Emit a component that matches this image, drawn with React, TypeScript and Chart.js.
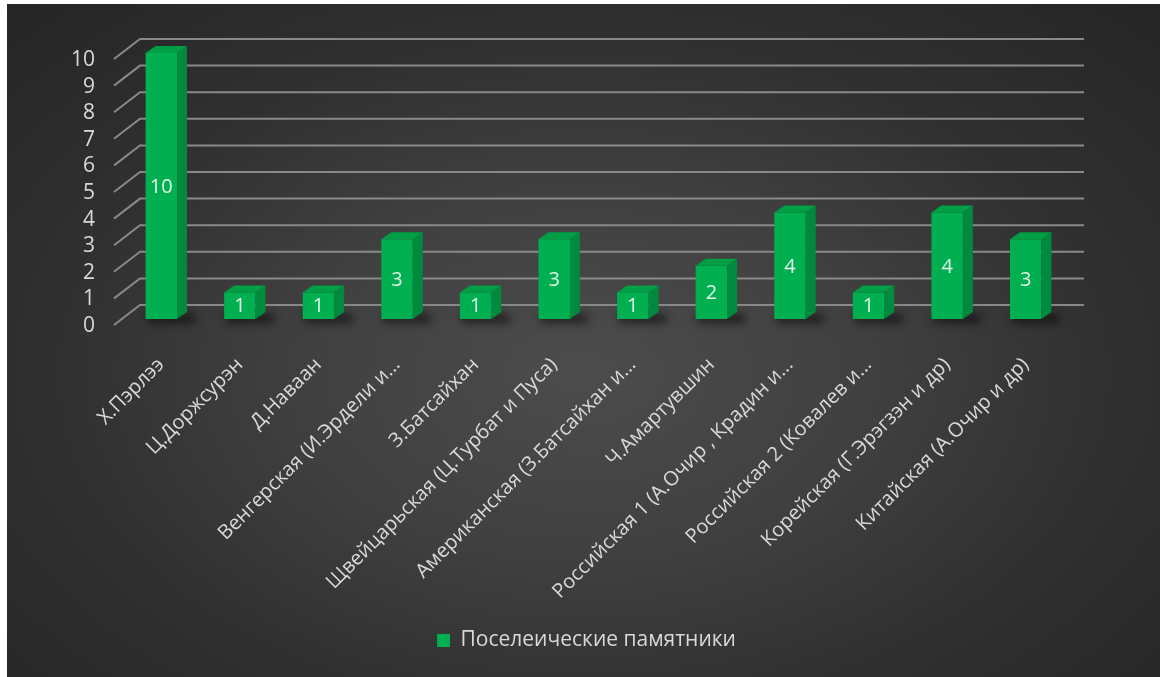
import { useEffect, useRef } from "react";
import { Chart, registerables } from "chart.js";

Chart.register(...registerables);

const categories: string[] = [
  "Х.Пэрлээ",
  "Ц.Доржсурэн",
  "Д.Наваан",
  "Венгерская (И.Эрдели и...",
  "З.Батсайхан",
  "Щвейцарьская (Ц.Турбат и Пуса)",
  "Американская (З.Батсайхан и...",
  "Ч.Амартувшин",
  "Российская 1 (А.Очир , Крадин и...",
  "Российская 2 (Ковалев и...",
  "Корейская (Г.Эрэгзэн и др)",
  "Китайская (А.Очир и др)",
];
const values: number[] = [10, 1, 1, 3, 1, 3, 1, 2, 4, 1, 4, 3];
const yTickValues: number[] = [0, 1, 2, 3, 4, 5, 6, 7, 8, 9, 10];
const seriesName = "Поселеические памятники";

const FONT = "'Open Sans', sans-serif";
const DX = 10;
const DY = 7;
const W = 1153;
const H = 673;

const threeD = {
  id: "threeD",
  beforeDatasetsDraw(chart: any) {
    const { ctx, chartArea, scales } = chart;
    const y = scales.y;
    ctx.save();
    ctx.strokeStyle = "#898989";
    ctx.lineWidth = 2;
    for (const v of yTickValues) {
      const py = y.getPixelForValue(v);
      ctx.beginPath();
      ctx.moveTo(chartArea.left - 8, py + 6);
      ctx.lineTo(chartArea.left + 18, py - 14);
      ctx.lineTo(chartArea.right + 19, py - 14);
      ctx.stroke();
    }
    const meta = chart.getDatasetMeta(0);
    ctx.filter = "blur(4px)";
    ctx.fillStyle = "rgba(0,0,0,0.55)";
    meta.data.forEach((bar: any) => {
      const { x, base, width } = bar.getProps(["x", "base", "width"], true);
      ctx.fillRect(x - width / 2 + 2, base - 5, width + DX + 6, 9);
    });
    ctx.restore();
  },
  afterDatasetsDraw(chart: any) {
    const { ctx } = chart;
    const meta = chart.getDatasetMeta(0);
    ctx.save();
    meta.data.forEach((bar: any, i: number) => {
      const { x, y, base, width } = bar.getProps(["x", "y", "base", "width"], true);
      const l = x - width / 2;
      const r = x + width / 2;
      ctx.fillStyle = "#008a3d";
      ctx.beginPath();
      ctx.moveTo(r, y);
      ctx.lineTo(r + DX, y - DY);
      ctx.lineTo(r + DX, base - DY);
      ctx.lineTo(r, base);
      ctx.closePath();
      ctx.fill();
      ctx.fillStyle = "#009e45";
      ctx.beginPath();
      ctx.moveTo(l, y);
      ctx.lineTo(l + DX, y - DY);
      ctx.lineTo(r + DX, y - DY);
      ctx.lineTo(r, y);
      ctx.closePath();
      ctx.fill();
      ctx.fillStyle = "#e4f3e8";
      ctx.font = `20px ${FONT}`;
      ctx.textAlign = "center";
      ctx.textBaseline = "middle";
      ctx.fillText(String(values[i]), x, (y + base) / 2 + 1);
    });
    ctx.restore();
  },
};

export default function App() {
  const ref = useRef<HTMLCanvasElement | null>(null);

  useEffect(() => {
    if (!ref.current) return;
    const chart = new Chart(ref.current, {
      type: "bar",
      data: {
        labels: categories,
        datasets: [
          {
            label: seriesName,
            data: values,
            backgroundColor: "#00b050",
            borderWidth: 0,
            barPercentage: 0.8,
            categoryPercentage: 0.5,
            yAxisID: "y",
          },
        ],
      },
      options: {
        responsive: false,
        animation: false,
        devicePixelRatio: 1,
        layout: { padding: { left: 60, right: 54, top: 49, bottom: 16 } },
        plugins: {
          tooltip: { enabled: false },
          legend: {
            display: true,
            position: "bottom",
            labels: {
              color: "#d9d9d9",
              font: { family: FONT, size: 21 },
              boxWidth: 13,
              boxHeight: 13,
              padding: 10,
            },
          },
        },
        scales: {
          x: {
            grid: { display: false, drawTicks: false },
            border: { display: false },
            ticks: {
              color: "#d9d9d9",
              font: { family: FONT, size: 20 },
              minRotation: 45,
              maxRotation: 45,
              autoSkip: false,
              padding: 34,
            },
            afterFit(scale: any) {
              scale.height = 301;
            },
          },
          y: {
            position: "left",
            min: 0,
            max: 10,
            grid: { display: false, drawTicks: false },
            border: { display: false },
            ticks: {
              stepSize: 1,
              autoSkip: false,
              color: "#d9d9d9",
              font: { family: FONT, size: 21 },
              padding: 27,
              labelOffset: 7,
            },
            afterFit(scale: any) {
              scale.width = 55;
            },
          },
          y2: {
            position: "right",
            min: 0,
            max: 10,
            grid: { display: false, drawTicks: false },
            border: { display: false },
            ticks: { display: false },
            afterFit(scale: any) {
              scale.width = 41;
            },
          },
        },
      },
      plugins: [threeD],
    });
    return () => chart.destroy();
  }, []);

  return (
    <div style={{ position: "absolute", left: 0, top: 0, width: 1160, height: 677, background: "#ffffff" }}>
      <div
        style={{
          position: "absolute",
          left: 7,
          top: 4,
          width: W,
          height: H,
          background:
            "radial-gradient(ellipse farthest-corner at 50% 55%, #4c4c4c 0%, #404040 35%, #303030 65%, #252525 100%)",
        }}
      >
        <canvas ref={ref} width={W} height={H} style={{ display: "block", width: W, height: H }} />
      </div>
    </div>
  );
}
